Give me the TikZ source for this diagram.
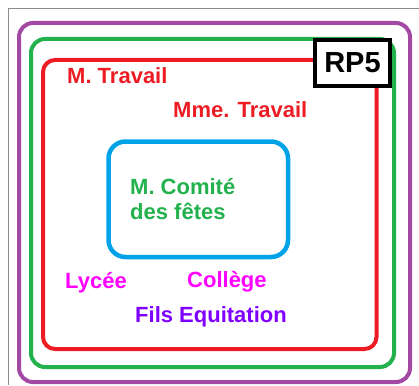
\documentclass[tikz,border=0pt]{standalone}
\usepackage{fontspec}
\setmainfont{Liberation Sans}
\usepackage{tikz}
\definecolor{rpred}{HTML}{ED1C24}
\definecolor{rpgreen}{HTML}{22B14C}
\definecolor{rpblue}{HTML}{00A2E8}
\definecolor{rppurple}{HTML}{A349A4}
\definecolor{rpmagenta}{HTML}{FF00FF}
\definecolor{rpviolet}{HTML}{8000FF}
\newcommand{\lbl}{\fontsize{22}{25}\selectfont\bfseries}

\begin{document}
\begin{tikzpicture}[x=1pt, y=-1pt, anchor=base west, inner sep=0pt,
    frame/.style={line width=4pt, rounded corners=14pt}]
    \useasboundingbox (0,0) rectangle (419,385);
    \draw [gray!90, line width=1pt] (8,385) -- (8,9) -- (419,9);

    \draw [frame, rppurple] (19,23) rectangle (410,382);
    \draw [frame, rpgreen] (31,39) rectangle (394,367);
    \draw [frame, rpred, rounded corners=12pt] (43,60) rectangle (376.5,349);
    \draw [frame, rpblue, line width=4.5pt, rounded corners=17pt] (108.5,141.5) rectangle (288,257);

    \node [draw=black, fill=white, line width=4pt, anchor=center,
      minimum width=75pt, minimum height=46pt,
      font=\fontsize{29}{32}\selectfont\bfseries] (rp) at (352.5,63) {RP5} ;

    \node [rpred, font=\lbl] (mtravail) at (67,83) {M. Travail} ;
    \node [rpred, font=\lbl] (mmetravail) at (173,117) {Mme. Travail} ;
      % base of a multi-line node is its last line
      \node [rpgreen, font=\lbl, align=left] (comite) at (130,219) {
        M. Comité \\
        des fêtes
      } ;
    \node [rpmagenta, font=\lbl] (lycee) at (65,288) {Lycée} ;
    \node [rpmagenta, font=\lbl] (college) at (187,287) {Collège} ;
    \node [rpviolet, font=\lbl] (fils) at (135,322) {Fils Equitation} ;
  \end{tikzpicture}
\end{document}
